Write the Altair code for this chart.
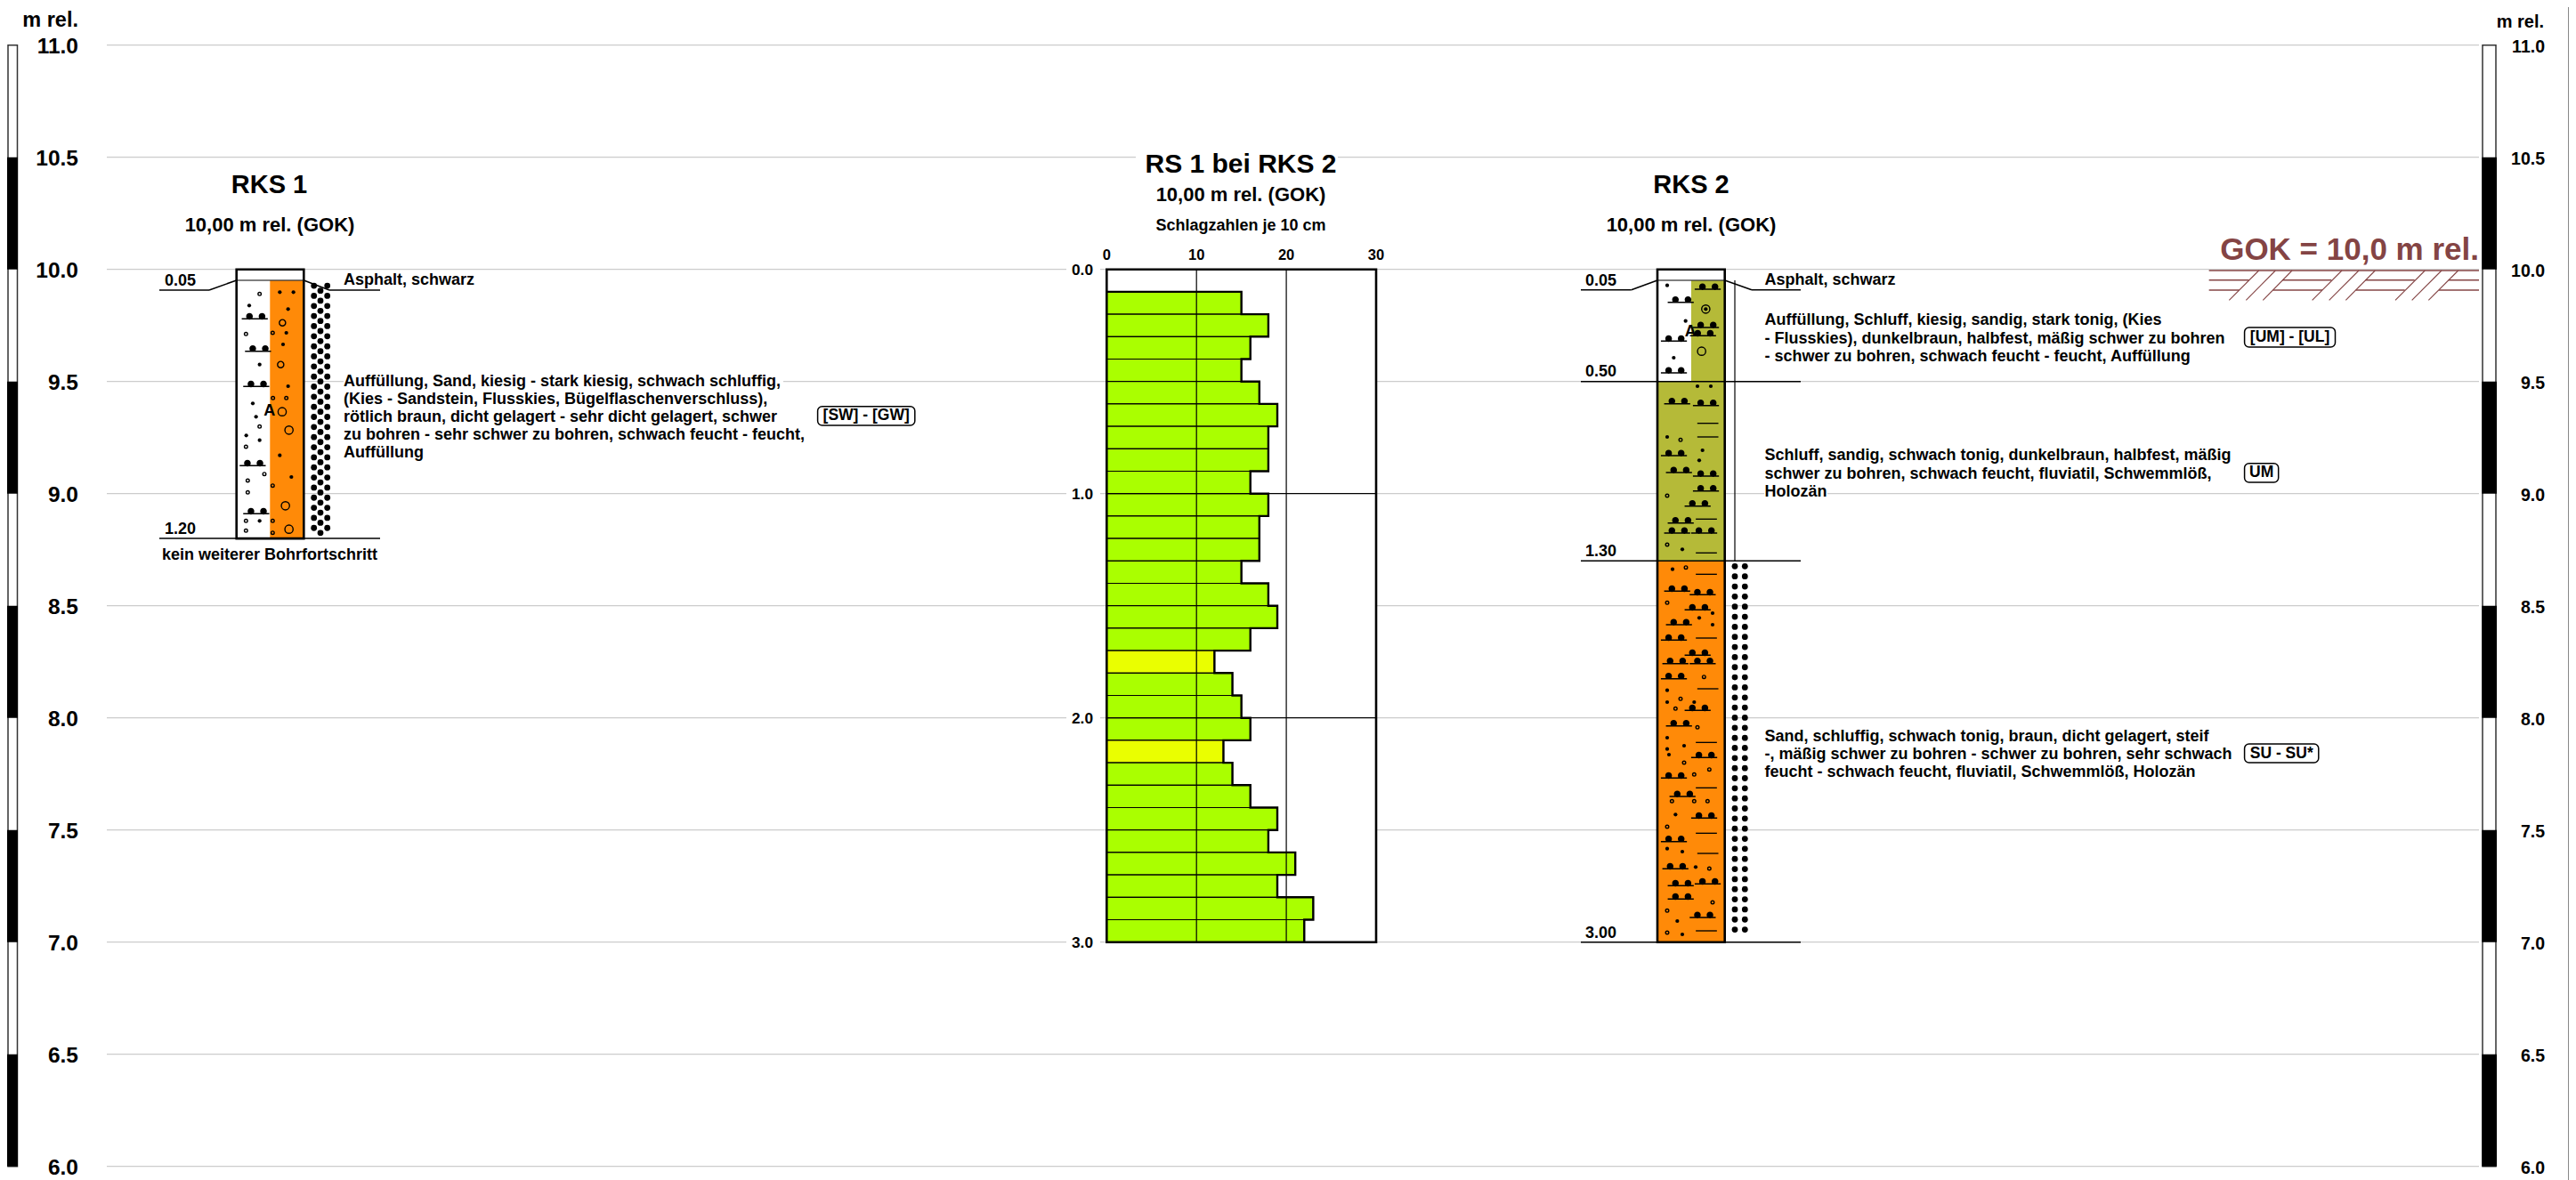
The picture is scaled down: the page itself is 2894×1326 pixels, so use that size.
import altair as alt
import pandas as pd

FONT = "Liberation Sans"
GRID = "#cccccc"
ORANGE = "#ff8a08"
OLIVE = "#b5ba38"
GREEN = "#aaff00"
YELLOW = "#eaff00"
BROWN = "#844444"


def elev(py):
    return 11 - (py - 50.7) / 252


SX = alt.Scale(domain=[8, 2886], range=[0, 2878], nice=False, zero=False)
SY = alt.Scale(domain=[elev(1326), elev(8)], range=[1318, 0], nice=False, zero=False)
RS_X = alt.Scale(domain=[0, 30], range=[1235.3, 1538], nice=False, zero=False)
RS_Y = alt.Scale(domain=[0, 3], range=[294.7, 1050.7], nice=False, zero=False)


def X(f="x", s=SX):
    return alt.X(f, type="quantitative", scale=s, axis=None)


def Y(f="y", s=SY):
    return alt.Y(f, type="quantitative", scale=s, axis=None)


# ---------------------------------------------------------------- data
ELEV_TICKS = [11.0, 10.5, 10.0, 9.5, 9.0, 8.5, 8.0, 7.5, 7.0, 6.5, 6.0]
SCALE_BLACK = [(10.5, 10.0), (9.5, 9.0), (8.5, 8.0), (7.5, 7.0), (6.5, 6.0)]

RS_TOP = [0.1, 0.2, 0.3, 0.4, 0.5, 0.6, 0.7, 0.8, 0.9, 1.0, 1.1, 1.2, 1.3, 1.4, 1.5,
          1.6, 1.7, 1.8, 1.9, 2.0, 2.1, 2.2, 2.3, 2.4, 2.5, 2.6, 2.7, 2.8, 2.9]
RS_BLOWS = [15, 18, 16, 15, 17, 19, 18, 18, 16, 18, 17, 17, 15, 18, 19,
            16, 12, 14, 15, 16, 13, 14, 16, 19, 18, 21, 19, 23, 22]
RS_XTICKS = [0, 10, 20, 30]
RS_DEPTHS = [0.0, 1.0, 2.0, 3.0]

# column segments: x, x2, depth from, depth to, colour
SEGMENTS = [
    (303.3, 341.0, 0.05, 1.20, ORANGE),
    (1900.0, 1937.5, 0.05, 0.50, OLIVE),
    (1862.0, 1937.5, 0.50, 1.30, OLIVE),
    (1862.0, 1937.5, 1.30, 3.00, ORANGE),
]

HEX_A = [.073, .118, .163, .208, .253, .298, .343, .388, .433, .478, .523, .568, .613,
         .658, .703, .748, .793, .838, .883, .928, .973, 1.018, 1.063, 1.108, 1.153]
HEX_B = [.095, .140, .185, .230, .275, .320, .365, .410, .455, .500, .545, .590, .635,
         .680, .725, .770, .815, .860, .905, .950, .995, 1.040, 1.085, 1.130, 1.175]
DOTS_R2 = [1.324, 1.369, 1.414, 1.459, 1.504, 1.549, 1.594, 1.639, 1.684, 1.729, 1.774,
           1.819, 1.864, 1.909, 1.954, 1.999, 2.044, 2.089, 2.134, 2.179, 2.224, 2.269,
           2.314, 2.359, 2.404, 2.449, 2.494, 2.539, 2.584, 2.629, 2.674, 2.719, 2.764,
           2.809, 2.854, 2.899, 2.944]

R1_HUMP = [(382, 235), (393, 344), (387, 463), (375, 730), (387, 892)]
R1_DOT = [(360, 190), (395, 389), (372, 520), (383, 565), (350, 628), (395, 644), (395, 916),
          (463, 145), (509, 145), (491, 202), (485, 282), (474, 321), (491, 462), (463, 695), (502, 768)]
R1_OPEN = [(395, 151), (349, 286), (395, 598), (349, 666), (411, 758), (355, 780), (355, 820),
           (349, 916), (349, 949), (439, 282), (440, 502), (485, 502), (439, 797), (439, 916), (439, 956)]
R1_RING = [(472, 248, 50), (466, 389, 50), (471, 548, 85), (494, 610, 85), (482, 865, 85), (494, 944, 85)]

R2A_HUMP = [(479, 465), (388, 509), (473, 594), (463, 622), (365, 640), (365, 747), (376, 851), (473, 857),
            (365, 1026), (382, 1083), (473, 1095), (473, 1145), (445, 1196), (388, 1253), (376, 1287), (467, 1287)]
R2A_DOT = [(339, 452), (401, 572), (361, 696), (441, 792), (486, 792), (339, 963), (458, 1008), (447, 1042), (390, 1342)]
R2A_OPEN = [(384, 973), (339, 1161), (339, 1326)]
R2A_DASH = [(476, 917), (476, 963), (471, 1240), (471, 1354)]
R2A_RING = [(469, 532, 85), (455, 674, 85)]
R2A_INNER = [(469, 532)]

R2B_HUMP = [(376, 133), (462, 145), (445, 196), (382, 246), (365, 298), (445, 349), (370, 377), (462, 377),
            (365, 428), (445, 535), (382, 587), (467, 694), (365, 763), (394, 825), (467, 898), (365, 977),
            (370, 1069), (388, 1126), (479, 1120), (388, 1171), (462, 1233)]
R2B_DOT = [(357, 59), (492, 207), (447, 223), (492, 246), (339, 467), (339, 507), (430, 507), (339, 627),
           (396, 654), (339, 665), (345, 684), (367, 886), (339, 1001), (390, 1011), (435, 1063), (373, 1245), (390, 1290)]
R2B_OPEN = [(402, 53), (339, 172), (463, 422), (384, 496), (367, 529), (441, 592), (396, 711), (481, 734),
            (430, 751), (355, 841), (430, 841), (475, 841), (339, 927), (481, 1068), (492, 1182), (339, 1210), (339, 1284)]
R2B_DASH = [(471, 76), (471, 291), (476, 462), (471, 643), (471, 796), (471, 949), (476, 1017), (471, 1278)]

# x, y in layout units
TEXTS_18_LEFT = [
    ("0.05", 185, 316), ("1.20", 185, 595),
    ("0.05", 1781, 316), ("0.50", 1781, 418), ("1.30", 1781, 620), ("3.00", 1781, 1049),
    ("Asphalt, schwarz", 386, 315),
    ("Auffüllung, Sand, kiesig - stark kiesig, schwach schluffig,", 386, 429),
    ("(Kies - Sandstein, Flusskies, Bügelflaschenverschluss),", 386, 449),
    ("rötlich braun, dicht gelagert - sehr dicht gelagert, schwer", 386, 469),
    ("zu bohren - sehr schwer zu bohren, schwach feucht - feucht,", 386, 489),
    ("Auffüllung", 386, 509),
    ("Asphalt, schwarz", 1982.5, 315),
    ("Auffüllung, Schluff, kiesig, sandig, stark tonig, (Kies", 1982.5, 360),
    ("- Flusskies), dunkelbraun, halbfest, mäßig schwer zu bohren", 1982.5, 381),
    ("- schwer zu bohren, schwach feucht - feucht, Auffüllung", 1982.5, 401),
    ("Schluff, sandig, schwach tonig, dunkelbraun, halbfest, mäßig", 1982.5, 512),
    ("schwer zu bohren, schwach feucht, fluviatil, Schwemmlöß,", 1982.5, 533),
    ("Holozän", 1982.5, 553),
    ("Sand, schluffig, schwach tonig, braun, dicht gelagert, steif", 1982.5, 828),
    ("-, mäßig schwer zu bohren - schwer zu bohren, sehr schwach", 1982.5, 848),
    ("feucht - schwach feucht, fluviatil, Schwemmlöß, Holozän", 1982.5, 868),
]
TEXTS_TITLE = [("RKS 1", 302.5, 208, 29), ("RS 1 bei RKS 2", 1394, 185, 30), ("RKS 2", 1900, 207.7, 29)]
TEXTS_MID = [
    ("10,00 m rel. (GOK)", 303, 253, 22), ("10,00 m rel. (GOK)", 1394, 219, 22), ("10,00 m rel. (GOK)", 1900, 253, 22),
    ("Schlagzahlen je 10 cm", 1394, 254, 18), ("kein weiterer Bohrfortschritt", 303, 624, 18),
    ("A", 302.7, 461.7, 18), ("A", 1899.3, 372.7, 18),
]
BOXES = [
    ("[SW] - [GW]", 918.6, 1027.8, 456.7, 478),
    ("[UM] - [UL]", 2521.6, 2623.5, 368, 390),
    ("UM", 2521.6, 2559.7, 520.7, 542),
    ("SU - SU*", 2521.6, 2604.8, 836, 857),
]
MASKS = [
    (1276, 1503, 168, 184), (386, 880, 420, 436), (1982, 2053, 546, 562),
    (1198, 1236, 294, 312), (1198, 1236, 546, 564), (1198, 1236, 798, 816), (1198, 1236, 1050, 1068),
]
# x1, y1, x2, y2
LEADERS = [
    (179, 326, 235, 326), (235, 326, 265.7, 315), (341.3, 315, 370, 326), (370, 326, 427, 326),
    (179, 605, 427, 605),
    (1776, 325.7, 1832.7, 325.7), (1832.7, 325.7, 1862, 315), (1937.7, 315, 1968, 325.7), (1968, 325.7, 2023, 325.7),
    (1776, 428.7, 2023, 428.7), (1776, 630.3, 2023, 630.3), (1776, 1058.7, 2023, 1058.7),
]
THIN = [(265.7, 315, 341.3, 315), (1862, 315, 1937.7, 315), (1949, 315, 1949, 630.3)]
GOK_LINES = [
    (65, 912, 975, 912),
    (65, 944, 200, 944), (312, 944, 478, 944), (592, 944, 758, 944), (872, 944, 975, 944),
    (65, 978, 167, 978), (281, 978, 447, 978), (560, 978, 725, 978), (840, 978, 975, 978),
]
GOK_DIAG = [(133, 1012, 233, 912), (190, 1012, 289, 912), (247, 1012, 345, 912),
            (413, 1012, 513, 912), (470, 1012, 570, 912), (526, 1012, 625, 912),
            (693, 1012, 793, 912), (749, 1012, 849, 912), (805, 1012, 905, 912)]


# ---------------------------------------------------------------- helpers
def pts(rows, x0, y0):
    out = [{"x": x0 + r[0] / 3, "y": elev(y0 + r[1] / 3), "s": r[2] if len(r) > 2 else 0} for r in rows]
    return pd.DataFrame(out)


def rect(rows, **mark):
    df = pd.DataFrame(rows, columns=["x", "x2", "y", "y2"])
    return alt.Chart(df).mark_rect(**mark).encode(x=X(), x2="x2", y=Y(), y2="y2")


def rule(rows, color="black", width=1.5):
    df = pd.DataFrame(rows, columns=["x", "y", "x2", "y2"])
    df["y"] = df["y"].map(elev)
    df["y2"] = df["y2"].map(elev)
    return alt.Chart(df).mark_rule(stroke=color, strokeWidth=width).encode(x=X(), x2="x2", y=Y(), y2="y2")


def text(rows, size, align="left", color="black"):
    df = pd.DataFrame(rows, columns=["t", "x", "y"])
    df["y"] = df["y"].map(elev)
    return alt.Chart(df).mark_text(font=FONT, fontWeight="bold", fontSize=size, align=align,
                                   baseline="middle", fill=color).encode(x=X(), y=Y(), text="t:N")


def ball(cx, cy, r):
    k = 0.55 * r
    return (f"M{cx - r} {cy} C{cx - r} {cy - k} {cx - k} {cy - r} {cx} {cy - r} "
            f"C{cx + k} {cy - r} {cx + r} {cy - k} {cx + r} {cy} "
            f"C{cx + r} {cy + k} {cx + k} {cy + r} {cx} {cy + r} "
            f"C{cx - k} {cy + r} {cx - r} {cy + k} {cx - r} {cy} Z ")


HUMP_PATH = "M-1.05 -0.05 L0.9 -0.05 L0.9 0.05 L-1.05 0.05 Z " + ball(-0.47, -0.19, 0.25) + ball(0.47, -0.19, 0.25)
DASH_PATH = "M-0.79 -0.045 L0.79 -0.045 L0.79 0.045 L-0.79 0.045 Z"


def sym(df, shape="circle", size=16, filled=True, sw=0.0):
    kw = dict(shape=shape, size=size, filled=filled, opacity=1)
    if filled:
        kw.update(fill="black", strokeWidth=0)
    else:
        kw.update(stroke="black", strokeWidth=sw)
    return alt.Chart(df).mark_point(**kw).encode(x=X(), y=Y())


def rings(df):
    return alt.Chart(df).mark_point(shape="circle", filled=False, stroke="black", strokeWidth=1.4, opacity=1).encode(
        x=X(), y=Y(), size=alt.Size("s:Q", scale=None))


def hex_col(x, depths):
    return pd.DataFrame({"x": [x] * len(depths), "y": [10 - d for d in depths]})


# ---------------------------------------------------------------- layers
layers = []

# grid
grid = pd.DataFrame({"x": [120] * len(ELEV_TICKS), "x2": [2785] * len(ELEV_TICKS), "y": ELEV_TICKS})
layers.append(alt.Chart(grid).mark_rule(stroke=GRID, strokeWidth=1.2).encode(x=X(), x2="x2", y=Y()))

# white masks behind text
layers.append(rect([(a, b, elev(c), elev(d)) for a, b, c, d in MASKS], fill="white", strokeWidth=0))

# bars of the elevation scales
for x0, x1 in [(9, 19.5), (2789, 2804)]:
    layers.append(rect([(x0, x1, 11.0, 6.0)], fill="white", stroke="#333333", strokeWidth=1.5))
for x0, x1 in [(8, 20), (2788.3, 2805)]:
    layers.append(rect([(x0, x1, a, b) for a, b in SCALE_BLACK], fill="black", strokeWidth=0))

# elevation labels
layers.append(text([(f"{v:.1f}", 88, 50.7 + (11 - v) * 252 + 2) for v in ELEV_TICKS], 24.5, "right"))
layers.append(text([(f"{v:.1f}", 2859, 50.7 + (11 - v) * 252 + 2) for v in ELEV_TICKS], 19.5, "right"))
layers.append(text([("m rel.", 88, 22.5)], 23.5, "right"))
layers.append(text([("m rel.", 2858, 25)], 20, "right"))

# log columns
layers.append(rect([(265.7, 341.3, 10.0, 8.8), (1862, 1937.7, 10.0, 7.0)], fill="white", strokeWidth=0))
layers.append(rect([(a, b, 10 - c, 10 - d) for a, b, c, d, k in SEGMENTS if k == ORANGE], fill=ORANGE, strokeWidth=0))
layers.append(rect([(a, b, 10 - c, 10 - d) for a, b, c, d, k in SEGMENTS if k == OLIVE], fill=OLIVE, strokeWidth=0))

layers.append(rule(LEADERS, width=1.6))
layers.append(rule(THIN, width=1.2))

# water/stone texture beside the logs
for df in (hex_col(352.7, HEX_A), hex_col(367.7, HEX_A), hex_col(360, HEX_B),
           hex_col(1949, DOTS_R2), hex_col(1960.3, DOTS_R2)):
    layers.append(sym(df, size=46))

# symbols
R1 = (160, 280)
R2A = (1760, 170)
R2B = (1760, 620)
for rows, o in [(R1_HUMP, R1), (R2A_HUMP, R2A), (R2B_HUMP, R2B)]:
    layers.append(sym(pts(rows, *o), shape=HUMP_PATH, size=900))
for rows, o in [(R1_DOT, R1), (R2A_DOT, R2A), (R2B_DOT, R2B), (R2A_INNER, R2A)]:
    layers.append(sym(pts(rows, *o), size=18))
for rows, o in [(R1_OPEN, R1), (R2A_OPEN, R2A), (R2B_OPEN, R2B)]:
    layers.append(sym(pts(rows, *o), size=13, filled=False, sw=1.4))
for rows, o in [(R2A_DASH, R2A), (R2B_DASH, R2B)]:
    layers.append(sym(pts(rows, *o), shape=DASH_PATH, size=900))
layers.append(rings(pts(R1_RING, *R1)))
layers.append(rings(pts(R2A_RING, *R2A)))

# frames of the logs
layers.append(rect([(265.7, 341.3, 10.0, 8.8), (1862, 1937.7, 10.0, 7.0)], filled=False,
                   stroke="black", strokeWidth=2.6))

# ram sounding
frame = pd.DataFrame({"a": [0], "b": [30], "c": [0], "d": [3]})
layers.append(alt.Chart(frame).mark_rect(fill="white", strokeWidth=0).encode(
    x=X("a", RS_X), x2="b", y=Y("c", RS_Y), y2="d"))
bars = pd.DataFrame({"a": [0] * len(RS_BLOWS), "b": RS_BLOWS, "c": RS_TOP, "d": [round(t + 0.1, 1) for t in RS_TOP]})
layers.append(alt.Chart(bars).mark_rect(stroke="black", strokeWidth=1.2).encode(
    x=X("a", RS_X), x2="b", y=Y("c", RS_Y), y2="d",
    fill=alt.Fill("kind:N", legend=None,
                  scale=alt.Scale(domain=["weak", "normal"], range=[YELLOW, GREEN]))
).transform_calculate(kind="datum.b < 14 && (datum.c == 1.7 || datum.c == 2.1) ? 'weak' : 'normal'"))
# heavy outline stepping along the bar ends
step = []
for v, t in zip(RS_BLOWS, RS_TOP):
    step.append({"a": v, "c": t, "i": len(step)})
    step.append({"a": v, "c": round(t + 0.1, 1), "i": len(step)})
step.insert(0, {"a": 0, "c": RS_TOP[0], "i": -1})
layers.append(alt.Chart(pd.DataFrame(step)).mark_line(stroke="black", strokeWidth=2.4, strokeCap="square").encode(
    x=X("a", RS_X), y=Y("c", RS_Y), order=alt.Order("i:Q")))
vl = pd.DataFrame({"a": [10, 20], "c": [0, 0], "d": [3, 3]})
layers.append(alt.Chart(vl).mark_rule(stroke="black", strokeWidth=1.2).encode(
    x=X("a", RS_X), y=Y("c", RS_Y), y2="d"))
hl = pd.DataFrame({"a": [0, 0], "b": [30, 30], "c": [1, 2]})
layers.append(alt.Chart(hl).mark_rule(stroke="black", strokeWidth=1.2).encode(
    x=X("a", RS_X), x2="b", y=Y("c", RS_Y)))
layers.append(alt.Chart(frame).mark_rect(filled=False, stroke="black", strokeWidth=2.6).encode(
    x=X("a", RS_X), x2="b", y=Y("c", RS_Y), y2="d"))
xt = pd.DataFrame({"a": RS_XTICKS, "t": [str(v) for v in RS_XTICKS], "y": [elev(287)] * len(RS_XTICKS)})
layers.append(alt.Chart(xt).mark_text(font=FONT, fontWeight="bold", fontSize=16.5, baseline="middle", align="center",
                                      fill="black").encode(x=X("a", RS_X), y=Y(), text="t:N"))
yt = pd.DataFrame({"c": RS_DEPTHS, "t": [f"{v:.1f}" for v in RS_DEPTHS], "x": [1228] * len(RS_DEPTHS)})
layers.append(alt.Chart(yt).mark_text(font=FONT, fontWeight="bold", fontSize=17.3, baseline="middle", align="right",
                                      dy=1.5, fill="black").encode(x=X(), y=Y("c", RS_Y), text="t:N"))

# texts
layers.append(text(TEXTS_18_LEFT, 18))
for t, x, y, s in TEXTS_TITLE + TEXTS_MID:
    layers.append(text([(t, x, y)], s, "center"))

# rock-type boxes
for t, a, b, c, d in BOXES:
    layers.append(rect([(a, b, elev(c), elev(d))], fill="white", stroke="black", strokeWidth=1.5, cornerRadius=5))
    layers.append(text([(t, (a + b) / 2, (c + d) / 2)], 17.5, "center"))

# ground level mark
layers.append(rule([(2460 + a / 3, b / 3, 2460 + c / 3, d / 3) for a, b, c, d in GOK_LINES], BROWN, 1.5))
layers.append(rule([(2460 + a / 3, b / 3, 2460 + c / 3, d / 3) for a, b, c, d in GOK_DIAG], BROWN, 1.1))
layers.append(text([("GOK = 10,0 m rel.", 2785, 280.7)], 35, "right", BROWN))

# page edge line
layers.append(rule([(2885.5, 8, 2885.5, 1326)], "#888888", 1))

chart = (
    alt.layer(*layers)
    .resolve_scale(x="independent", y="independent", size="independent")
    .properties(width=2878, height=1318, padding=0, autosize=alt.AutoSizeParams(type="none"), background="white")
    .configure_view(strokeWidth=0)
)
chart.save("out.html", embed_options={"renderer": "svg", "actions": False})
